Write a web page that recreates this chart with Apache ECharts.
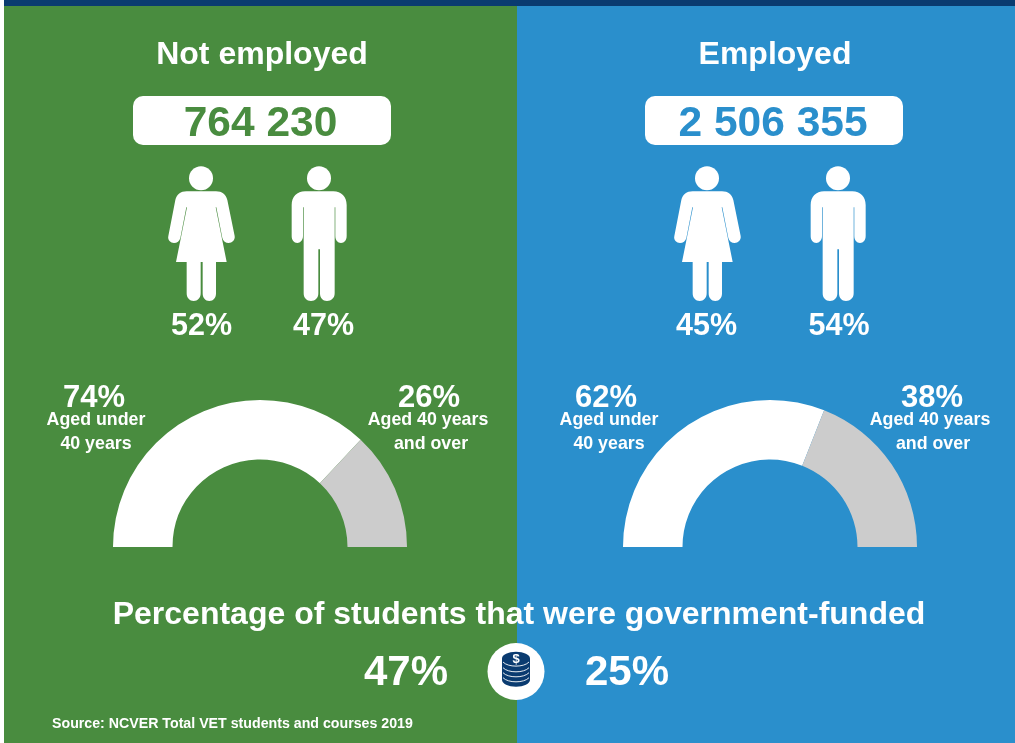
<!DOCTYPE html>
<html><head><meta charset="utf-8">
<style>html,body{margin:0;padding:0;background:#fff}#c{width:1015px;height:743px}</style>
<script src="https://cdn.jsdelivr.net/npm/echarts@6/dist/echarts.min.js"></script>
</head><body><div id="c"></div>
<script>
const groups = ['Not employed', 'Employed'];
const totals = ['764 230', '2 506 355'];
const femaleShare = [52, 45];
const maleShare = [47, 54];
const agedUnder40 = [74, 62];
const aged40Plus = [26, 38];
const govFunded = [47, 25];
const sourceText = 'Source: NCVER Total VET students and courses 2019';

const GREEN = '#498C3F', BLUE = '#2A8FCC', NAVY = '#0A3B70', GREY = '#CCCCCC';
const FONT = '"Liberation Sans", Arial, sans-serif';
const colours = [GREEN, BLUE];
const femalePath = 'M170 124L258 124C276 124 288 134 292 150L314 258C316 270 306 279 296 279C287 279 279 273 277 264L259 172L257 172L290 336L258 336L258 430C258 444 250 453 238 453C226 453 218 444 218 430L218 336L212 336L212 430C212 444 203 453 191 453C179 453 170 444 170 430L170 336L138 336L171 172L169 172L151 264C149 273 141 279 132 279C122 279 112 270 115 258L136 150C140 134 152 124 170 124Z';
const malePath = 'M525 124L610 124C634 124 650 140 650 165L650 258C650 270 643 279 633 279C623 279 616 270 616 258L616 172L614 172L614 430C614 444 604 453 591 453C578 453 570 444 570 430L570 298L565 298L565 430C565 444 556 453 543 453C530 453 521 444 521 430L521 172L519 172L519 258C519 270 511 279 502 279C492 279 485 270 485 258L485 165C485 140 501 124 525 124Z';
echarts.graphic.registerShape('femaleFigure', echarts.graphic.extendPath(femalePath, {}));
echarts.graphic.registerShape('maleFigure', echarts.graphic.extendPath(malePath, {}));

function txt(s, x, y, size, fill, align) {
  return {type:'text', x, y, z:10, style:{text:s, fill:fill||'#fff', font:'bold '+size+'px '+FONT, align:align||'center', verticalAlign:'middle'}};
}
function person(kind, headX, dx) {
  return [
    {type:'circle', z:5, shape:{cx:headX, cy:178.3, r:12}, style:{fill:'#fff'}},
    {type:kind, z:5, x:dx, y:150, scaleX:1/3, scaleY:1/3, style:{fill:'#fff'}}
  ];
}
const layout = [
  {title:262, boxX:133, num:260.5, fX:201, fDx:130, mX:319, mDx:130, fL:201.5, mL:323.5, cx:260,
   a:[94,96,96], b:[429,428,431]},
  {title:775, boxX:645, num:773, fX:707, fDx:636, mX:838, mDx:649, fL:706.5, mL:839, cx:770,
   a:[606,609,609], b:[932,930,933]}
];
const g = [
  {type:'rect', z:0, shape:{x:4,y:0,width:513,height:743}, style:{fill:GREEN}},
  {type:'rect', z:0, shape:{x:517,y:0,width:498,height:743}, style:{fill:BLUE}},
  {type:'rect', z:1, shape:{x:4,y:0,width:1011,height:6}, style:{fill:NAVY}}
];
groups.forEach((name,i)=>{
  const L = layout[i];
  g.push(txt(name, L.title, 55, 32));
  g.push({type:'rect', z:5, shape:{x:L.boxX,y:96,width:258,height:49,r:10}, style:{fill:'#fff'}});
  g.push(txt(totals[i], L.num, 124, 42.5, colours[i]));
  g.push(...person('femaleFigure', L.fX, L.fDx));
  g.push(...person('maleFigure', L.mX, L.mDx));
  g.push(txt(femaleShare[i]+'%', L.fL, 327, 30.5));
  g.push(txt(maleShare[i]+'%', L.mL, 327, 30.5));
  g.push(txt(agedUnder40[i]+'%', L.a[0], 398, 31));
  g.push(txt('Aged under', L.a[1], 420.5, 17.8));
  g.push(txt('40 years', L.a[2], 444.5, 17.8));
  g.push(txt(aged40Plus[i]+'%', L.b[0], 398, 31));
  g.push(txt('Aged 40 years', L.b[1], 420.5, 17.8));
  g.push(txt('and over', L.b[2], 444.5, 17.8));
});
g.push(txt('Percentage of students that were government-funded', 519, 615, 32));
g.push(txt(govFunded[0]+'%', 406, 673, 42));
g.push(txt(govFunded[1]+'%', 627, 673, 42));
g.push(txt(sourceText, 52, 724.5, 14.2, '#fff', 'left'));
g.push({type:'circle', z:5, shape:{cx:516,cy:671.5,r:28.5}, style:{fill:'#fff'}});
g.push({type:'ellipse', z:6, shape:{cx:516,cy:680,rx:14,ry:6.7}, style:{fill:NAVY}});
g.push({type:'rect', z:6, shape:{x:502,y:658.5,width:28,height:21.5}, style:{fill:NAVY}});
g.push({type:'ellipse', z:6, shape:{cx:516,cy:658.5,rx:14,ry:6.7}, style:{fill:NAVY}});
[666,671.7,676.7,681.7].forEach(y=>{
  g.push({type:'bezierCurve', z:7, shape:{x1:503,y1:y-4,cpx1:508,cpy1:y+1.5,cpx2:524,cpy2:y+1.5,x2:529,y2:y-4}, style:{stroke:'#fff', lineWidth:0.9, fill:'none'}});
});
g.push(txt('$', 516, 659, 13));

const chart = echarts.init(document.getElementById('c'), null, {renderer:'canvas'});
chart.setOption({
  animation:false,
  graphic:{elements:g},
  series: groups.map((name,i)=>({
    type:'pie', name, z:4, silent:true,
    center:[layout[i].cx, 547], radius:[87.5,147],
    startAngle:180, endAngle:0, clockwise:true,
    label:{show:false}, labelLine:{show:false},
    data:[
      {name:'Aged under 40 years', value:agedUnder40[i], itemStyle:{color:'#FFFFFF'}},
      {name:'Aged 40 years and over', value:aged40Plus[i], itemStyle:{color:GREY}}
    ]
  }))
});
</script></body></html>
